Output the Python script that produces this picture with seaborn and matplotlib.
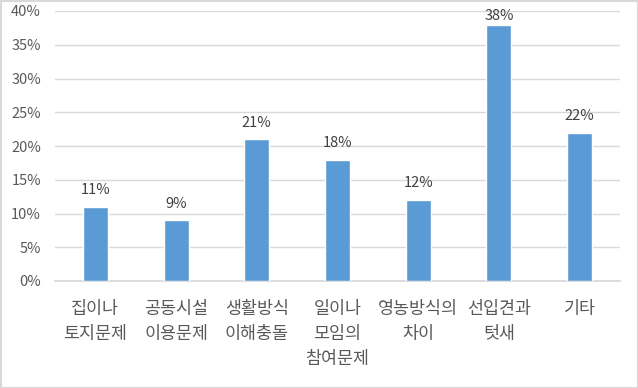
import matplotlib
matplotlib.use("Agg")
import matplotlib.pyplot as plt
import seaborn as sns
import pandas as pd
from matplotlib.patches import Rectangle

categories = ["집이나\n토지문제", "공동시설\n이용문제", "생활방식\n이해충돌", "일이나\n모임의\n참여문제",
              "영농방식의\n차이", "선입견과\n텃새", "기타"]
values = [11, 9, 21, 18, 12, 38, 22]
yticks = [0, 5, 10, 15, 20, 25, 30, 35, 40]

sns.set_theme(style="white")
plt.rcParams['font.family'] = ['Noto Sans CJK KR', 'DejaVu Sans']

df = pd.DataFrame({"cat": categories, "val": values})
text_color = "#595959"

fig = plt.figure(figsize=(6.38, 3.88), dpi=100)
ax = fig.add_axes([55/638, 1-281/388, 565/638, 270/388])
sns.barplot(data=df, x="cat", y="val", color="#5B9BD5", width=0.31, saturation=1, ax=ax, zorder=3)

ax.set_ylim(0, 40)
ax.set_yticks(yticks)
ax.set_yticklabels([f"{v}%" for v in yticks], color=text_color, fontsize=10.5)
ax.yaxis.grid(True, color="#D9D9D9", linewidth=1, zorder=0)
ax.set_xlim(-0.5, len(categories) - 0.5)
ax.tick_params(axis="both", length=0)
ax.tick_params(axis="y", pad=10)
ax.tick_params(axis="x", pad=13.5)
for lbl in ax.get_xticklabels():
    lbl.set_color(text_color)
    lbl.set_fontsize(12.5)
    lbl.set_linespacing(1.52)
    lbl.set_verticalalignment("top")
ax.set_xlabel("")
ax.set_ylabel("")
for s in ["left", "right", "top"]:
    ax.spines[s].set_visible(False)
ax.spines["bottom"].set_color("#D9D9D9")

bars = ax.containers[0]
for rect, v in zip(bars, values):
    pad = 1 if v == max(values) else 7
    ax.annotate(f"{v}%", (rect.get_x() + rect.get_width() / 2, rect.get_height()),
                xytext=(0, pad), textcoords="offset points", ha="center", va="bottom",
                color="#404040", fontsize=10.5)

fig.patches.append(Rectangle((0.5/638, 0.5/388), 1 - 1/638, 1 - 1/388, transform=fig.transFigure,
                             fill=False, edgecolor="#D9D9D9", linewidth=1.5))
fig.savefig("out.png", dpi=100)
